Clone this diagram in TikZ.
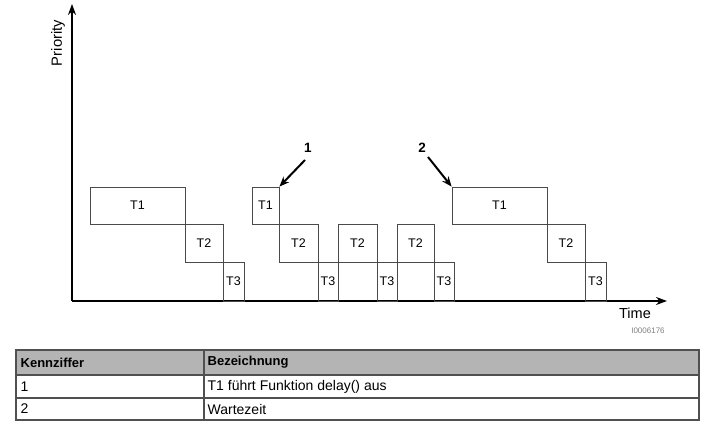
\documentclass[tikz,border=0pt]{standalone}
\usepackage{fontspec}
\setmainfont{Liberation Sans}
\usetikzlibrary{arrows.meta}
\definecolor{boxline}{HTML}{4A4A4A}
\definecolor{tabline}{HTML}{505050}
\definecolor{headfill}{HTML}{B4B4B4}
\tikzset{
  tb/.style={draw=boxline, line width=0.8pt, inner sep=0pt, font=\fontsize{12.5}{14}\selectfont},
  axis/.style={line width=2pt, -{Stealth[length=11pt,width=8pt]}},
  callout/.style={line width=2pt, -{Stealth[length=10pt,width=8pt]}},
  numlbl/.style={font=\bfseries\fontsize{13.5}{15}\selectfont, inner sep=0pt},
  cell/.style={draw=tabline, line width=1.1pt, inner sep=0pt},
  celltext/.style={anchor=west, inner sep=0pt, font=\fontsize{14}{16}\selectfont},
  headtext/.style={anchor=west, inner sep=0pt, font=\bfseries\fontsize{13}{15}\selectfont},
}
\begin{document}
\begin{tikzpicture}[x=1pt,y=-1pt]
\useasboundingbox (0,0) rectangle (707,425);
% axes
\coordinate (o) at (72,301);
\coordinate (ytop) at (72,4);
\coordinate (xend) at (667,301);
\draw[axis] (o) -- (ytop);
\draw[axis] (o) -- (xend);
\node[rotate=90, font=\fontsize{14.8}{17}\selectfont, inner sep=0pt] (prio) at (58,43) {Priority};
\node[font=\fontsize{14.5}{17}\selectfont, inner sep=0pt] (time) at (635,313) {Time};
\node[font=\fontsize{8}{10}\selectfont, text=gray, inner sep=0pt] (code) at (648,331) {I0006176};
% first group
\node[tb, minimum width=95pt, minimum height=37pt] (a1) at (137.5,205.5) {T1};
\node[tb, minimum width=38pt, minimum height=38pt] (a2) at (204,243) {T2};
\node[tb, minimum width=21pt, minimum height=39pt] (a3) at (233.5,281.5) {T3};
% second group
\node[tb, minimum width=27pt, minimum height=37pt] (b1) at (265.5,205.5) {T1};
\node[tb, minimum width=39pt, minimum height=38pt] (b2) at (298.5,243) {T2};
\node[tb, minimum width=20pt, minimum height=39pt] (b3) at (328,281.5) {T3};
\node[tb, minimum width=39pt, minimum height=38pt] (c2) at (357.5,243) {T2};
\node[tb, minimum width=20pt, minimum height=39pt] (c3) at (387,281.5) {T3};
\node[tb, minimum width=37pt, minimum height=38pt] (d2) at (415.5,243) {T2};
\node[tb, minimum width=20pt, minimum height=39pt] (d3) at (444,281.5) {T3};
% third group
\node[tb, minimum width=95pt, minimum height=37pt] (e1) at (499.5,205.5) {T1};
\node[tb, minimum width=38pt, minimum height=38pt] (e2) at (566,243) {T2};
\node[tb, minimum width=21pt, minimum height=39pt] (e3) at (595.5,281.5) {T3};
% callouts
\node[numlbl] (n1) at (308,148) {1};
\coordinate (t1) at (305,160);
\draw[callout] (t1) -- (b1.north east);
\node[numlbl] (n2) at (422,148) {2};
\coordinate (t2) at (428,157);
\draw[callout] (t2) -- (e1.north west);
% table
\node[cell, fill=headfill, minimum width=188pt, minimum height=25pt] (h1) at (110,362.5) {};
\node[cell, fill=headfill, minimum width=495pt, minimum height=25pt] (h2) at (451.5,362.5) {};
\node[cell, minimum width=188pt, minimum height=23pt] (r1a) at (110,386.5) {};
\node[cell, minimum width=495pt, minimum height=23pt] (r1b) at (451.5,386.5) {};
\node[cell, minimum width=188pt, minimum height=22pt] (r2a) at (110,409) {};
\node[cell, minimum width=495pt, minimum height=22pt] (r2b) at (451.5,409) {};
\node[headtext] (k) at ([xshift=5pt]h1.west) {Kennziffer};
\node[headtext] (b) at ([xshift=4pt]h2.west) {Bezeichnung};
\node[celltext] (v1) at ([xshift=5pt]r1a.west) {1};
\node[celltext] (d1) at ([xshift=4pt]r1b.west) {T1 führt Funktion delay() aus};
\node[celltext] (v2) at ([xshift=5pt]r2a.west) {2};
\node[celltext] (dd2) at ([xshift=4pt]r2b.west) {Wartezeit};
\end{tikzpicture}
\end{document}
